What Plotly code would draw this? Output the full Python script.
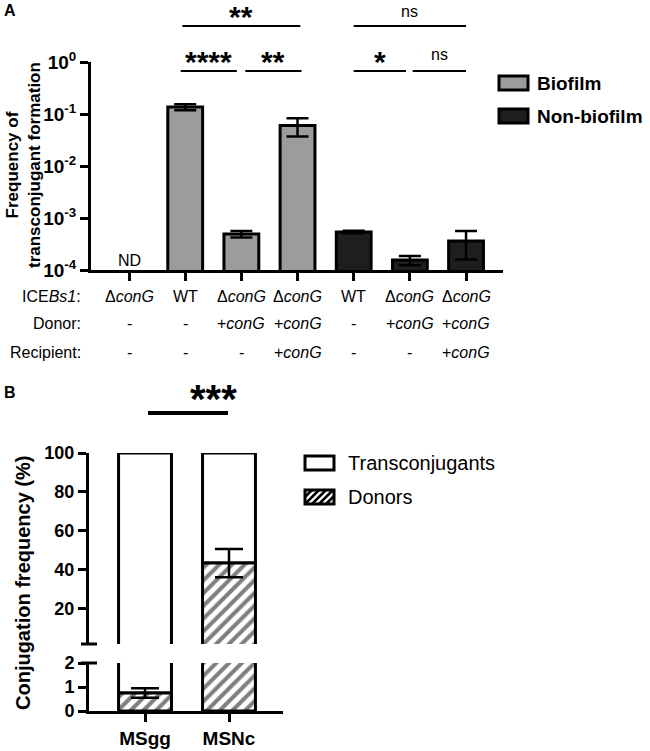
import plotly.graph_objects as go

W, H = 650, 751
FONT = "Liberation Sans, Arial, Helvetica, sans-serif"

# ---------------- Data: panel A ----------------
cat_idx = [0, 1, 2, 3, 4, 5, 6]
ice_labels = ["Δ<i>conG</i>", "WT", "Δ<i>conG</i>", "Δ<i>conG</i>", "WT", "Δ<i>conG</i>", "Δ<i>conG</i>"]
donor_labels = ["-", "-", "+<i>conG</i>", "+<i>conG</i>", "-", "+<i>conG</i>", "+<i>conG</i>"]
recipient_labels = ["-", "-", "-", "+<i>conG</i>", "-", "-", "+<i>conG</i>"]
row_names = ["ICE<i>Bs1</i>:", "Donor:", "Recipient:"]

biofilm_x = [0, 1, 2, 3]
biofilm_y = [None, 0.136, 4.9e-4, 0.060]
biofilm_err = [0, 0.018, 0.7e-4, 0.023]

nonbiofilm_x = [4, 5, 6]
nonbiofilm_y = [5.4e-4, 1.55e-4, 3.6e-4]
nonbiofilm_err = [0.3e-4, 0.31e-4, 2.0e-4]

a_ticks = [1e-4, 1e-3, 1e-2, 1e-1, 1]
a_ticktext = ["10<sup>-4</sup>", "10<sup>-3</sup>", "10<sup>-2</sup>", "10<sup>-1</sup>", "10<sup>0</sup>"]

# significance comparisons: (x0, x1, label, level)
sig_a = [
    (0.95, 3.05, "**", "top"),
    (0.92, 1.92, "****", "low"),
    (2.07, 3.07, "**", "low"),
    (4.0, 6.0, "ns", "top"),
    (4.0, 4.93, "*", "low"),
    (5.05, 6.0, "ns", "low"),
]

# ---------------- Data: panel B ----------------
media = ["MSgg", "MSNc"]
donors = [0.75, 43.5]
donors_err = [0.2, 7.3]
transconjugants = [100 - d for d in donors]


def px(x):
    return x / W


def py(y):
    return 1 - y / H


fig = go.Figure()

bar_line = dict(color="black", width=3)

# Panel A bars
fig.add_trace(go.Bar(
    x=biofilm_x, y=biofilm_y, width=0.62, name="Biofilm",
    marker=dict(color="#9c9c9c", line=bar_line),
    error_y=dict(type="data", array=biofilm_err, color="black", thickness=2.5, width=11),
    xaxis="x", yaxis="y", showlegend=False,
))
fig.add_trace(go.Bar(
    x=nonbiofilm_x, y=nonbiofilm_y, width=0.62, name="Non-biofilm",
    marker=dict(color="#1e1e1e", line=bar_line),
    error_y=dict(type="data", array=nonbiofilm_err, color="black", thickness=2.5, width=11),
    xaxis="x", yaxis="y", showlegend=False,
))

# Panel B bars (broken axis: drawn in lower and upper segments)
pattern = dict(shape="/", fgcolor="black", bgcolor="white", size=9, solidity=0.45)
for yax in ["y2", "y3"]:
    fig.add_trace(go.Bar(
        x=[0, 1], y=transconjugants, base=donors, width=0.63, name="Transconjugants",
        marker=dict(color="white", line=bar_line),
        xaxis="x2", yaxis=yax, showlegend=False,
    ))
    fig.add_trace(go.Bar(
        x=[0, 1], y=donors, width=0.63, name="Donors",
        marker=dict(color="white", line=bar_line, pattern=pattern),
        error_y=dict(type="data", array=donors_err, color="black", thickness=2.5, width=14),
        xaxis="x2", yaxis=yax, showlegend=False,
    ))

axis_common = dict(showgrid=False, zeroline=False, showline=True, linecolor="black",
                   linewidth=3, ticks="outside", tickcolor="black", tickwidth=2.5, ticklen=8,
                   automargin=False)

fig.update_layout(
    width=W, height=H,
    margin=dict(l=0, r=0, t=0, b=0, autoexpand=False),
    paper_bgcolor="white", plot_bgcolor="white",
    barmode="overlay",
    font=dict(family=FONT, color="black"),
    xaxis=dict(domain=[px(91), px(503)], range=[-0.677, 6.658], anchor="y",
               tickvals=cat_idx, showticklabels=False, **axis_common),
    yaxis=dict(domain=[py(270), py(62)], type="log", range=[-4, 0], anchor="x",
               tickvals=a_ticks, ticktext=a_ticktext,
               tickfont=dict(size=19, weight="bold", family=FONT), **axis_common),
    xaxis2=dict(domain=[px(89), px(283)], range=[-0.667, 1.643], anchor="y2",
                tickvals=[0, 1], ticktext=media, ticklabelstandoff=0,
                tickfont=dict(size=19, weight="bold", family=FONT), **axis_common),
    yaxis2=dict(domain=[py(711), py(663)], range=[0, 2], anchor="x2",
                tickvals=[0, 1, 2], tickfont=dict(size=18, weight="bold", family=FONT), **axis_common),
    yaxis3=dict(domain=[py(644), py(453)], range=[2, 100], anchor="x2",
                tickvals=[20, 40, 60, 80, 100], tickfont=dict(size=18, weight="bold", family=FONT), **axis_common),
)

ann = []
shapes = []

# Panel labels
ann.append(dict(text="<b>A</b>", x=px(2), y=py(10), xref="paper", yref="paper",
                xanchor="left", yanchor="middle", showarrow=False, font=dict(size=16)))
ann.append(dict(text="<b>B</b>", x=px(2), y=py(393), xref="paper", yref="paper",
                xanchor="left", yanchor="middle", showarrow=False, font=dict(size=16)))

# Y titles
ann.append(dict(text="<b>Frequency of<br>transconjugant formation</b>", x=px(23), y=py(165),
                xref="paper", yref="paper", textangle=-90, showarrow=False,
                xanchor="center", yanchor="middle", font=dict(size=17)))
ann.append(dict(text="<b>Conjugation frequency (%)</b>", x=px(23), y=py(583),
                xref="paper", yref="paper", textangle=-90, showarrow=False,
                xanchor="center", yanchor="middle", font=dict(size=20)))

# ND
for i, v in zip(biofilm_x, biofilm_y):
    if v is None:
        ann.append(dict(text="ND", x=i, y=py(250), xref="x", yref="paper", showarrow=False,
                        font=dict(size=16)))

# Table under panel A
row_y = [296, 323, 352]
for r, (name, labels) in enumerate(zip(row_names, [ice_labels, donor_labels, recipient_labels])):
    ann.append(dict(text=name, x=px(83), y=py(row_y[r]), xref="paper", yref="paper",
                    xanchor="right", yanchor="middle", showarrow=False, font=dict(size=16)))
    for i, lab in zip(cat_idx, labels):
        ann.append(dict(text=lab, x=i, y=py(row_y[r]), xref="x", yref="paper",
                        xanchor="center", yanchor="middle", showarrow=False, font=dict(size=16)))

# Significance brackets panel A
for x0, x1, lab, lvl in sig_a:
    ly = 26 if lvl == "top" else 71
    shapes.append(dict(type="line", xref="x", yref="paper", x0=x0, x1=x1, y0=py(ly), y1=py(ly),
                       line=dict(color="black", width=2)))
    if lab == "ns":
        off = -4 if lvl == "top" else -6
        ann.append(dict(text=lab, x=(x0 + x1) / 2, y=py(ly + off), xref="x", yref="paper",
                        yanchor="bottom", showarrow=False, font=dict(size=16)))
    else:
        ann.append(dict(text="<b>" + lab + "</b>", x=(x0 + x1) / 2, y=py(ly + 9), xref="x", yref="paper",
                        yanchor="bottom", showarrow=False, font=dict(size=30)))

# Significance panel B
shapes.append(dict(type="line", xref="paper", yref="paper", x0=px(148), x1=px(228),
                   y0=py(413), y1=py(413), line=dict(color="black", width=4)))
ann.append(dict(text="<b>***</b>", x=px(188), y=py(423), xref="paper", yref="paper",
                yanchor="bottom", showarrow=False, font=dict(size=40)))

# Axis break marks
for yb in [644, 663]:
    shapes.append(dict(type="line", xref="paper", yref="paper", x0=px(81), x1=px(97),
                       y0=py(yb), y1=py(yb), line=dict(color="black", width=3)))

# Legend panel A
leg_a = [("Biofilm", "#9c9c9c", 83), ("Non-biofilm", "#1e1e1e", 116)]
for name, col, cy in leg_a:
    shapes.append(dict(type="rect", xref="paper", yref="paper", x0=px(499), x1=px(528),
                       y0=py(cy - 7), y1=py(cy + 7), fillcolor=col, line=dict(color="black", width=3)))
    ann.append(dict(text="<b>" + name + "</b>", x=px(535), y=py(cy), xref="paper", yref="paper",
                    xanchor="left", yanchor="middle", showarrow=False, font=dict(size=19)))

# Legend panel B
bx0, bx1 = 305, 334
leg_b = [("Transconjugants", 463, False), ("Donors", 497, True)]
for name, cy, hatch in leg_b:
    y0, y1 = cy - 7, cy + 7
    shapes.append(dict(type="rect", xref="paper", yref="paper", x0=px(bx0), x1=px(bx1),
                       y0=py(y0), y1=py(y1), fillcolor="white", line=dict(color="black", width=3)))
    if hatch:
        h = y1 - y0
        u = bx0 - h
        while u < bx1:
            tmin = max(0.0, (bx0 - u) / h)
            tmax = min(1.0, (bx1 - u) / h)
            if tmax > tmin:
                xa, ya = u + tmin * h, y1 - tmin * h
                xb, yb = u + tmax * h, y1 - tmax * h
                shapes.append(dict(type="line", xref="paper", yref="paper", x0=px(xa), x1=px(xb),
                                   y0=py(ya), y1=py(yb), line=dict(color="black", width=2.5)))
            u += 7
    ann.append(dict(text=name, x=px(346), y=py(cy), xref="paper", yref="paper",
                    xanchor="left", yanchor="middle", showarrow=False, font=dict(size=20)))

fig.update_layout(annotations=ann, shapes=shapes)
fig.write_html(
    "out.html",
    config={"displayModeBar": False},
    post_script="document.body.style.margin='0';document.body.style.overflow='hidden';",
)
